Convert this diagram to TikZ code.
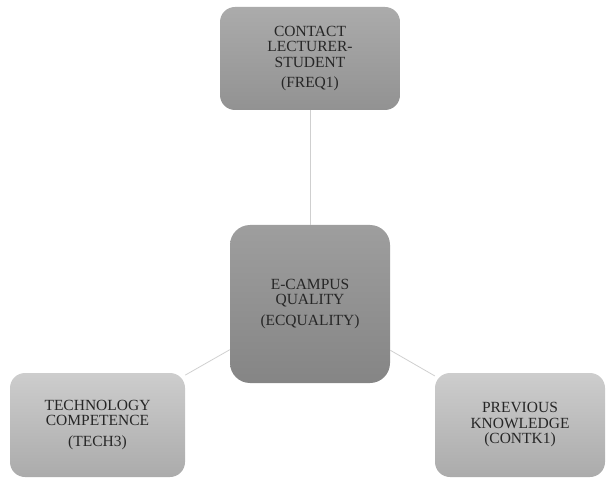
\documentclass[tikz,border=0pt]{standalone}
\usepackage{fontspec}
\setmainfont{Liberation Serif}
\usepackage{tikz}
\definecolor{boxtopA}{HTML}{ABABAB}
\definecolor{boxbotA}{HTML}{929292}
\definecolor{boxtopB}{HTML}{9E9E9E}
\definecolor{boxbotB}{HTML}{858585}
\definecolor{boxtopC}{HTML}{CDCDCD}
\definecolor{boxbotC}{HTML}{ABABAB}
\definecolor{linkgray}{HTML}{CFCFCF}
\definecolor{txtgray}{HTML}{262626}

\begin{document}
\begin{tikzpicture}[x=1pt,y=-1pt,
  factor/.style={rectangle,rounded corners=15pt,align=center,text=txtgray,
    font=\fontsize{15.5}{15.5}\selectfont,inner sep=0pt},
  upper/.style={factor,top color=boxtopA,bottom color=boxbotA,
    minimum width=180pt,minimum height=103pt},
  central/.style={factor,rounded corners=20pt,top color=boxtopB,bottom color=boxbotB,
    minimum width=160pt,minimum height=158pt},
  lower/.style={factor,top color=boxtopC,bottom color=boxbotC,
    minimum height=104pt},
  link/.style={draw=linkgray,line width=0.8pt}]
\useasboundingbox (0,0) rectangle (607,478);
\node[upper] (contact) at (310,58.5) {CONTACT\\LECTURER-\\STUDENT\\[4.5pt](FREQ1)};
\node[central] (ecampus) at (310,304) {E-CAMPUS\\QUALITY\\[5pt](ECQUALITY)};
\node[lower,minimum width=175pt] (techcomp) at (97.5,425) {TECHNOLOGY\\COMPETENCE\\[5pt](TECH3)};
\node[lower,minimum width=170pt] (prevknow) at (520,425) {PREVIOUS\\KNOWLEDGE\\(CONTK1)};
\draw[link] (contact) -- (ecampus);
\draw[link] (ecampus) -- (techcomp);
\draw[link] (ecampus) -- (prevknow);
\end{tikzpicture}
\end{document}
